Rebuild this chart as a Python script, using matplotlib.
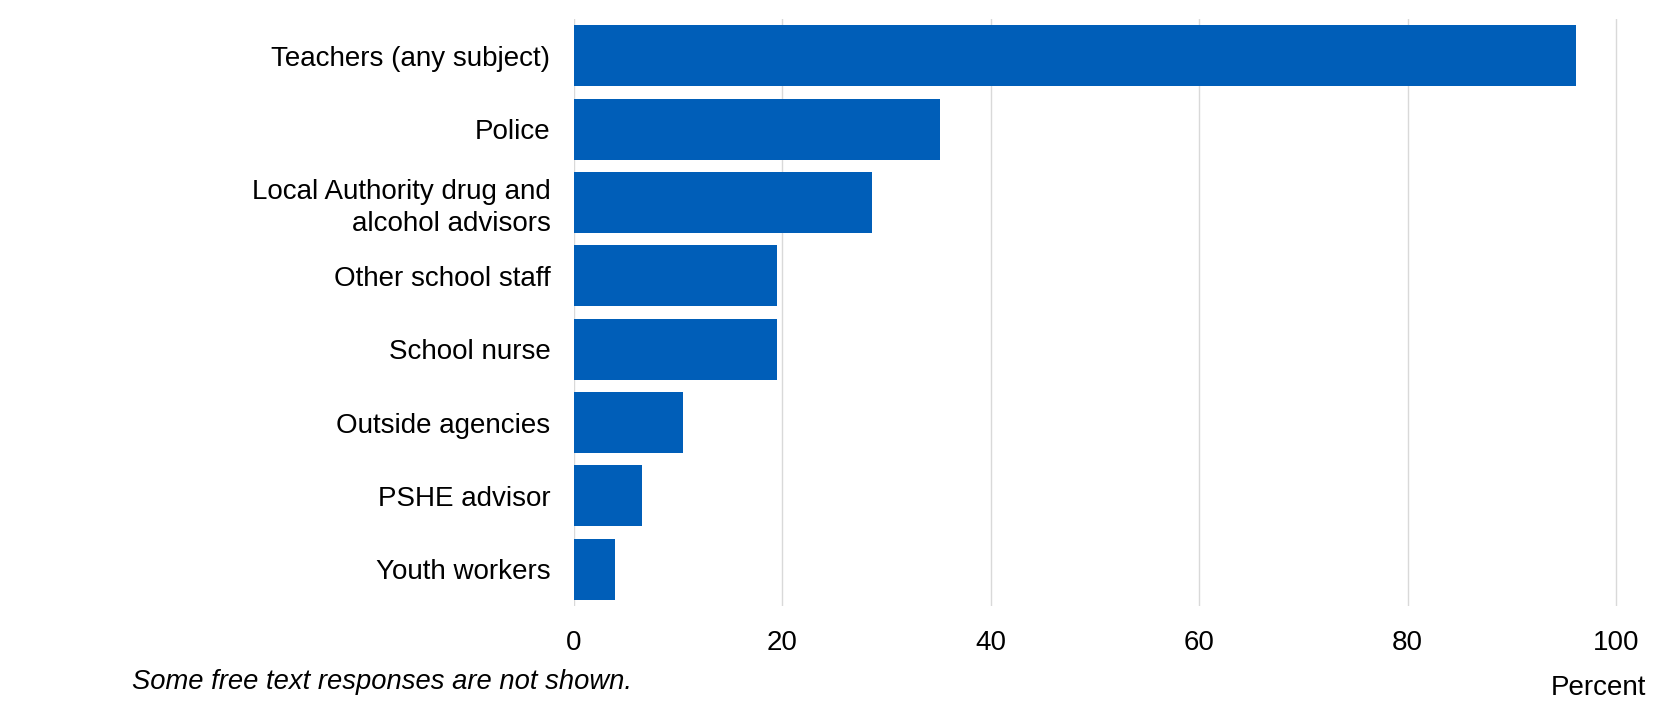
import matplotlib
matplotlib.use("Agg")
import matplotlib.pyplot as plt

categories = ["Teachers (any subject)", "Police", "Local Authority drug and\nalcohol advisors",
              "Other school staff", "School nurse", "Outside agencies", "PSHE advisor", "Youth workers"]
values = [96.2, 35.1, 28.6, 19.5, 19.5, 10.5, 6.5, 3.9]
xticks = [0, 20, 40, 60, 80, 100]

plt.rcParams['font.family'] = ['Liberation Sans', 'DejaVu Sans']

W, H = 1680, 716
fig = plt.figure(figsize=(W / 100, H / 100), dpi=100)
left, right, top, bottom = 574, 1618, 19, 606
ax = fig.add_axes([left / W, 1 - bottom / H, (right - left) / W, (bottom - top) / H])

fs = 20
y = list(range(len(categories)))
ax.barh(y, values, height=0.83, color="#005EB8", zorder=2)
ax.set_ylim(len(categories) - 0.5, -0.5)
ax.set_xlim(0, 100.2)
ax.set_yticks(y)
ax.set_yticklabels(categories, fontsize=fs, linespacing=1.3)
ax.set_xticks(xticks)
ax.set_xticklabels([str(t) for t in xticks], fontsize=fs)
ax.tick_params(axis='both', length=0)
ax.tick_params(axis='y', pad=17)
ax.tick_params(axis='x', pad=17)
for lab in ax.get_yticklabels():
    lab.set_horizontalalignment('right')
    lab.set_multialignment('right')
ax.grid(axis='x', color='#D9D9D9', linewidth=1, zorder=0)
for s in ax.spines.values():
    s.set_visible(False)

fig.text(1646 / W, 1 - 688 / H, "Percent", ha='right', va='center', fontsize=fs)
fig.text(132 / W, 1 - 682 / H, "Some free text responses are not shown.", ha='left', va='center',
         fontsize=19.7, style='italic')

fig.savefig("out.png", dpi=100)
